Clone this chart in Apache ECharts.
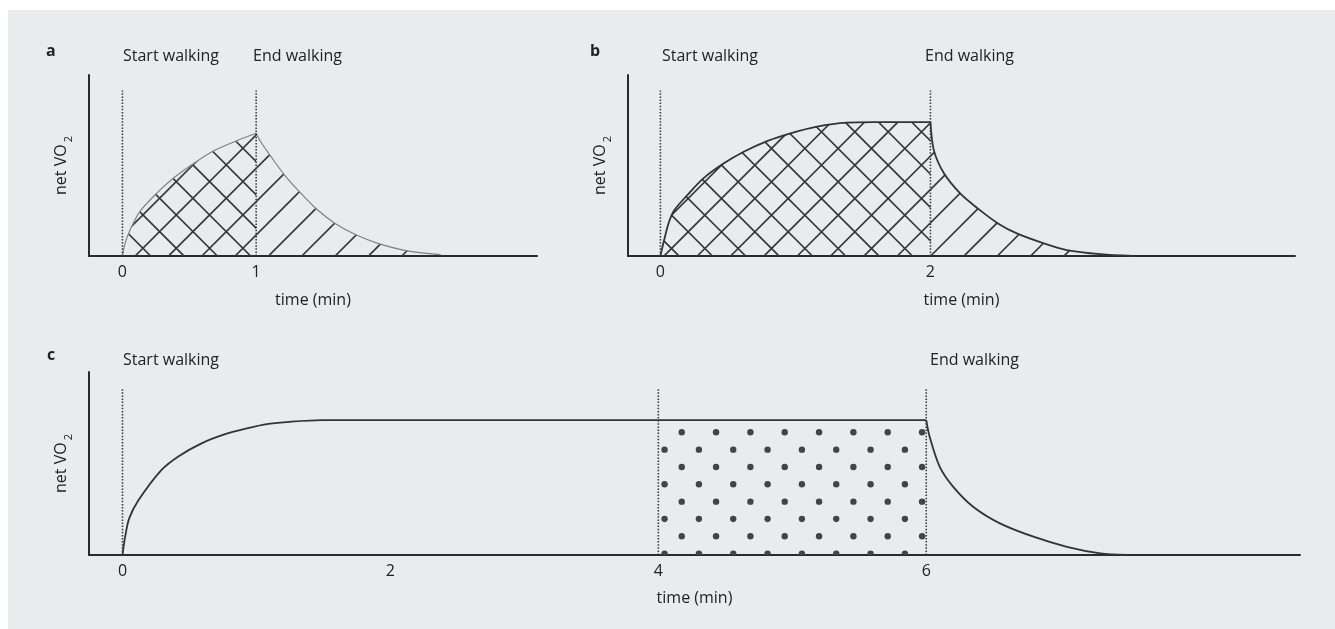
<!DOCTYPE html>
<html>
<head>
<meta charset="utf-8">
<script src="https://cdn.jsdelivr.net/npm/echarts@6/dist/echarts.min.js"></script>
<style>
html,body{margin:0;padding:0;background:#fff;}
#chart{width:1335px;height:629px;}
</style>
</head>
<body>
<div id="chart"></div>
<script>
// ---- data (time in min, net VO2 in relative units 0..1) ----
const ticksA = [0, 1];
const ticksB = [0, 2];
const ticksC = [0, 2, 4, 6];

const riseA = [[0,0],[0.02,0.07],[0.057,0.144],[0.13,0.245],[0.255,0.346],[0.38,0.43],[0.53,0.51],[0.68,0.58],[0.855,0.637],[1.0,0.678]];
const decayA = [[1.0,0.678],[1.035,0.63],[1.11,0.55],[1.22,0.44],[1.33,0.35],[1.46,0.254],[1.59,0.18],[1.75,0.116],[1.91,0.07],[2.12,0.03],[2.38,0.008]];

const riseB = [[0,0],[0.025,0.08],[0.06,0.18],[0.1,0.25],[0.2,0.337],[0.32,0.43],[0.47,0.512],[0.617,0.576],[0.79,0.635],[0.963,0.678],[1.16,0.715],[1.38,0.737],[1.58,0.74],[2.0,0.74]];
const decayB = [[2.0,0.74],[2.025,0.585],[2.1,0.457],[2.22,0.346],[2.35,0.263],[2.5,0.18],[2.64,0.125],[2.84,0.07],[3.01,0.033],[3.26,0.01],[3.5,0.0]];

const riseC = [[0,0],[0.02,0.10],[0.05,0.2],[0.12,0.30],[0.29,0.464],[0.42,0.54],[0.59,0.61],[0.75,0.656],[0.92,0.69],[1.09,0.716],[1.25,0.728],[1.49,0.737],[6.0,0.737]];
const decayC = [[6.0,0.737],[6.025,0.647],[6.1,0.483],[6.2,0.374],[6.35,0.264],[6.55,0.173],[6.8,0.10],[7.05,0.045],[7.3,0.009],[7.5,0.0]];
const dotAreaC = [[4,0.737],[6,0.737]];

const markersA = [0, 1];
const markersB = [0, 2];
const markersC = [0, 4, 6];
const markerTop = 0.915;

// ---- fill patterns ----
function makeHatch(offA, offB, cross) {
  const T = 100, P = T / 3;
  const cv = document.createElement('canvas'); cv.width = T; cv.height = T;
  const g = cv.getContext('2d');
  g.strokeStyle = '#383838'; g.lineWidth = 1.7;
  g.beginPath();
  for (let k = -9; k <= 9; k++) {
    const s = offA + k * P; // x + y = s
    g.moveTo(s + T, -T); g.lineTo(s - 2 * T, 2 * T);
  }
  if (cross) {
    for (let k = -9; k <= 9; k++) {
      const s = offB + k * P; // x - y = s
      g.moveTo(s - T, -T); g.lineTo(s + 2 * T, 2 * T);
    }
  }
  g.stroke();
  return { image: cv, repeat: 'repeat' };
}
function makeDots() {
  const W = 103, H = 104, px = W / 3, py = H / 3;
  const cv = document.createElement('canvas'); cv.width = W; cv.height = H;
  const g = cv.getContext('2d');
  g.fillStyle = '#444';
  for (let i = -1; i <= 3; i++) for (let j = -1; j <= 3; j++) {
    [[29.4 + i * px, 16.3 + j * py], [29.4 - px / 2 + i * px, 16.3 + py / 2 + j * py]].forEach(p => {
      g.beginPath(); g.arc(p[0], p[1], 3.2, 0, Math.PI * 2); g.fill();
    });
  }
  return { image: cv, repeat: 'repeat' };
}
const crossA = makeHatch(24.5, 28, true), singleA = makeHatch(24.5, 28, false);
const crossB = makeHatch(20, 23, true), singleB = makeHatch(20, 23, false);
const dotsC = makeDots();

const FONT = '"Open Sans", "DejaVu Sans", sans-serif';
const TXT = '#222';

function xAx(grid, min, max, ticks, gap) {
  return {
    gridIndex: grid, type: 'value', min: min, max: max,
    splitLine: { show: false }, axisTick: { show: false },
    axisLine: { lineStyle: { color: '#2a2a2a', width: 2 } },
    axisLabel: { customValues: ticks, fontSize: 16, color: TXT, margin: 8, fontFamily: FONT },
    name: 'time (min)', nameLocation: 'middle', nameGap: gap,
    nameTextStyle: { fontSize: 16, color: TXT, fontFamily: FONT }
  };
}
function yAx(grid) {
  return {
    gridIndex: grid, type: 'value', min: 0, max: 1,
    splitLine: { show: false }, axisTick: { show: false }, axisLabel: { show: false },
    axisLine: { show: true, onZero: false, lineStyle: { color: '#2a2a2a', width: 2 } },
    name: '{t|net VO}{s|2}', nameLocation: 'middle', nameRotate: 90, nameGap: 16,
    nameTextStyle: {
      color: TXT, fontFamily: FONT,
      rich: {
        t: { fontSize: 16, lineHeight: 20, verticalAlign: 'top', color: TXT, fontFamily: FONT },
        s: { fontSize: 11, lineHeight: 11, padding: [10, 0, 0, 2], verticalAlign: 'top', color: TXT, fontFamily: FONT }
      }
    }
  };
}
function curve(grid, data, lineColor, lineWidth, fill) {
  const s = {
    type: 'line', xAxisIndex: grid, yAxisIndex: grid, data: data,
    showSymbol: false, symbol: 'none', smooth: 0.3,
    lineStyle: { color: lineColor, width: lineWidth }, z: 3, silent: true
  };
  if (fill) s.areaStyle = { color: fill, opacity: 1 };
  return s;
}
function markers(grid, xs) {
  return xs.map(x => ({
    type: 'line', xAxisIndex: grid, yAxisIndex: grid,
    data: [[x, 0], [x, markerTop]], showSymbol: false, symbol: 'none',
    lineStyle: { color: '#3a3a3a', width: 1.6, type: [1.5, 1.6] }, z: 5, silent: true
  }));
}
function label(text, x, y, bold) {
  return {
    type: 'text', x: x, y: y, z: 10,
    style: { text: text, font: (bold ? 'bold ' : '') + '16px ' + FONT, fill: TXT, textVerticalAlign: 'middle', verticalAlign: 'middle' }
  };
}

const option = {
  animation: false,
  backgroundColor: '#ffffff',
  graphic: [
    { type: 'rect', z: -100, shape: { x: 8, y: 10, width: 1327, height: 619 }, style: { fill: '#eaebec' } },
    label('a', 46, 51, true), label('Start walking', 123, 56), label('End walking', 253, 56),
    label('b', 590, 51, true), label('Start walking', 662, 56), label('End walking', 925, 56),
    label('c', 47, 355, true), label('Start walking', 123, 360), label('End walking', 930, 360)
  ],
  grid: [
    { left: 89, top: 75, width: 448, height: 181 },
    { left: 628, top: 75, width: 667, height: 181 },
    { left: 89, top: 372, width: 1211, height: 183 }
  ],
  xAxis: [xAx(0, -0.25, 3.1, ticksA, 36), xAx(1, -0.24, 4.7, ticksB, 36), xAx(2, -0.25, 8.79, ticksC, 35)],
  yAxis: [yAx(0), yAx(1), yAx(2)],
  series: [
    curve(0, riseA, '#808080', 1.2, crossA),
    curve(0, decayA, '#808080', 1.2, singleA),
    curve(1, riseB, '#333', 1.8, crossB),
    curve(1, decayB, '#333', 1.8, singleB),
    { type: 'line', xAxisIndex: 2, yAxisIndex: 2, data: dotAreaC, showSymbol: false, symbol: 'none',
      lineStyle: { width: 0, opacity: 0 }, areaStyle: { color: dotsC, opacity: 1 }, z: 2, silent: true },
    curve(2, riseC, '#333', 1.8, null),
    curve(2, decayC, '#333', 1.8, null)
  ].concat(markers(0, markersA), markers(1, markersB), markers(2, markersC))
};

const chart = echarts.init(document.getElementById('chart'), null, { renderer: 'canvas' });
chart.setOption(option);
</script>
</body>
</html>
